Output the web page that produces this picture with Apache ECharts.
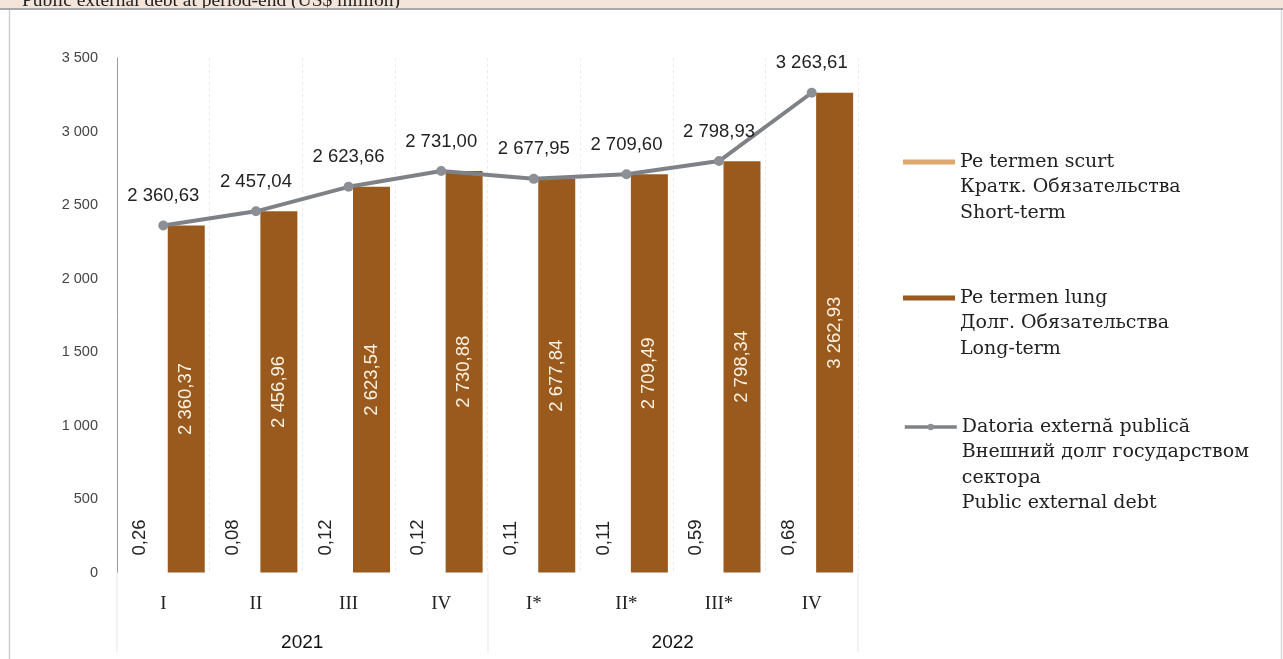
<!DOCTYPE html>
<html>
<head>
<meta charset="utf-8">
<script src="https://cdn.jsdelivr.net/npm/echarts@6/dist/echarts.min.js"></script>
<style>
html,body{margin:0;padding:0;background:#fff;}
#chart{width:1283px;height:659px;}
</style>
</head>
<body>
<div id="chart"></div>
<script>
var titleText = 'Public external debt at period-end (US$ million)';
var quarters = ['I', 'II', 'III', 'IV', 'I*', 'II*', 'III*', 'IV'];
var years = ['2021', '2022'];
var shortTerm = [0.26, 0.08, 0.12, 0.12, 0.11, 0.11, 0.59, 0.68];
var longTerm = [2360.37, 2456.96, 2623.54, 2730.88, 2677.84, 2709.49, 2798.34, 3262.93];
var totalDebt = [2360.63, 2457.04, 2623.66, 2731.00, 2677.95, 2709.60, 2798.93, 3263.61];
var nameShort = 'Pe termen scurt\nКратк. Обязательства\nShort-term';
var nameLong = 'Pe termen lung\nДолг. Обязательства\nLong-term';
var nameTotal = 'Datoria externă publică\nВнешний долг государством\nсектора\nPublic external debt';

function fmtNum(v, dec) {
  var s = Number(v).toFixed(dec);
  var parts = s.split('.');
  var intPart = parts[0].replace(/\B(?=(\d{3})+(?!\d))/g, ' ');
  return parts.length > 1 ? intPart + ',' + parts[1] : intPart;
}

var SANS = '"Liberation Sans", "DejaVu Sans", sans-serif';
var SERIF = '"DejaVu Serif", "Liberation Serif", serif';
var longColor = '#9A5A1E';
var shortColor = '#DDA86E';
var lineColor = '#7E8287';
var LH = 25.5;

function legendFor(name, iconCenter, lines, icon, h, textGap, extra) {
  // blank lines above the name keep the icon level with the first line
  var pad = '';
  for (var i = 0; i < lines - 1; i++) pad += '\n';
  var total = 2 * lines - 1;
  var lg = {
    orient: 'vertical',
    left: 903,
    top: iconCenter + 3 - total * LH / 2,
    padding: 0,
    itemWidth: 52,
    itemHeight: h,
    itemGap: 0,
    textGap: textGap,
    selectedMode: false,
    data: [{ name: name }],
    formatter: function (n) { return pad + n; },
    textStyle: {
      fontFamily: SERIF,
      fontSize: 19,
      color: '#222',
      lineHeight: LH
    }
  };
  if (icon) lg.icon = icon;
  if (extra) for (var k in extra) lg[k] = extra[k];
  return lg;
}

var dataLabelFont = 18.5;

var chart = echarts.init(document.getElementById('chart'));
chart.setOption({
  animation: false,
  backgroundColor: '#ffffff',
  grid: { left: 117, right: 425, top: 58, bottom: 86.5, containLabel: false },
  legend: [
    legendFor(nameShort, 159, 3, 'rect', 5, 5),
    legendFor(nameLong, 295, 3, 'rect', 5, 5),
    legendFor(nameTotal, 424, 4, null, 8, 3, { lineStyle: { width: 3.5, color: lineColor }, itemStyle: { color: '#8C9095' } })
  ],
  graphic: [
    { type: 'rect', left: 0, top: 0, z: 10, shape: { width: 1283, height: 9 }, style: { fill: '#F4E5DA' } },
    { type: 'text', x: 22, y: 11, z: 11, style: { text: titleText, font: '19.5px "Liberation Serif", serif', fill: '#222', verticalAlign: 'bottom' } },
    { type: 'rect', left: 0, top: 8, z: 12, shape: { width: 1283, height: 2 }, style: { fill: '#A8A8A8' } },
    { type: 'line', z: 12, shape: { x1: 9.5, y1: 10, x2: 9.5, y2: 659 }, style: { stroke: '#CFCFCF', lineWidth: 1.5 } },
    { type: 'line', z: 12, shape: { x1: 1281.5, y1: 10, x2: 1281.5, y2: 659 }, style: { stroke: '#D8D8D8', lineWidth: 1.5 } }
  ],
  xAxis: [
    {
      type: 'category',
      data: quarters,
      axisLine: { show: false },
      axisTick: { show: false },
      splitLine: { show: true, lineStyle: { color: '#EBEBEB', type: [3, 3], width: 1 } },
      axisLabel: { margin: 22, fontFamily: '"Liberation Serif", serif', fontSize: 19, color: '#222' }
    },
    {
      type: 'category',
      data: years,
      position: 'bottom',
      axisLine: { show: false },
      axisTick: { show: true, length: 80, lineStyle: { color: '#EEEEEE', width: 1.5 } },
      axisLabel: { margin: 61, fontFamily: SANS, fontSize: 19, color: '#111' }
    }
  ],
  yAxis: {
    type: 'value',
    min: 0,
    max: 3500,
    interval: 500,
    axisLine: { show: true, lineStyle: { color: '#9A9A9A', width: 1 } },
    axisTick: { show: false },
    splitLine: { show: false },
    axisLabel: {
      margin: 19,
      fontFamily: SANS,
      fontSize: 14.5,
      color: '#444',
      formatter: function (v) { return fmtNum(v, 0); }
    }
  },
  series: [
    {
      name: nameShort,
      type: 'bar',
      data: shortTerm,
      barWidth: 37,
      barGap: '24%',
      itemStyle: { color: shortColor },
      label: {
        show: true,
        position: 'top',
        distance: 17,
        rotate: 90,
        align: 'left',
        verticalAlign: 'middle',
        fontFamily: SANS,
        fontSize: dataLabelFont,
        color: '#222',
        formatter: function (p) { return fmtNum(p.value, 2); }
      }
    },
    {
      name: nameLong,
      type: 'bar',
      data: longTerm,
      barWidth: 37,
      itemStyle: { color: longColor },
      label: {
        show: true,
        position: 'inside',
        rotate: 90,
        fontFamily: SANS,
        fontSize: dataLabelFont,
        color: '#FBF1E2',
        formatter: function (p) { return fmtNum(p.value, 2); }
      }
    },
    {
      name: nameTotal,
      type: 'line',
      data: totalDebt,
      symbol: 'circle',
      symbolSize: 10,
      z: 5,
      lineStyle: { color: lineColor, width: 4 },
      itemStyle: { color: '#8C9095' },
      label: {
        show: true,
        position: 'top',
        distance: 15,
        fontFamily: SANS,
        fontSize: dataLabelFont,
        color: '#222',
        formatter: function (p) { return fmtNum(p.value, 2); }
      }
    }
  ]
});
</script>
</body>
</html>
